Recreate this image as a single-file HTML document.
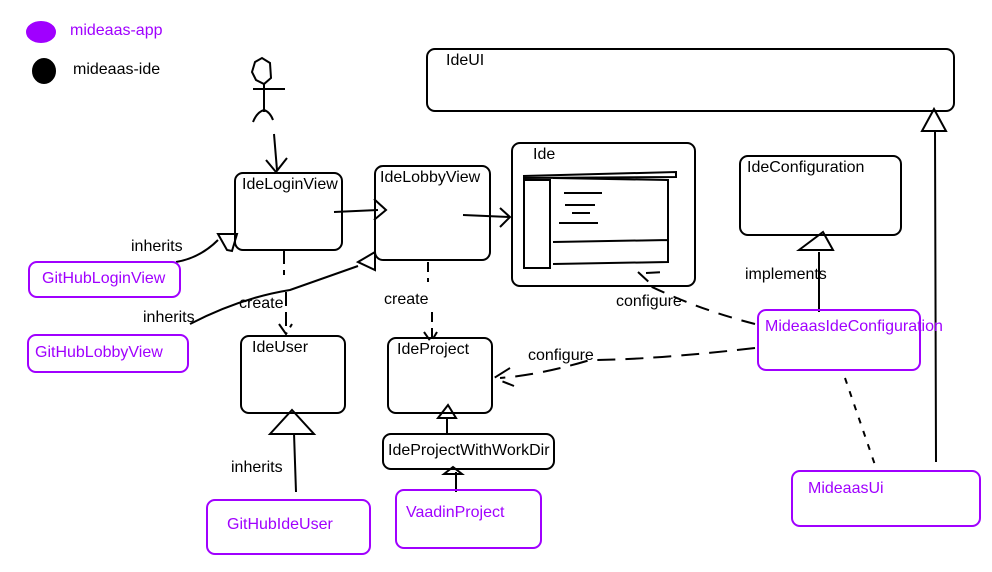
<!DOCTYPE html>
<html><head><meta charset="utf-8"><style>
body{margin:0;width:992px;height:572px;background:#fff;position:relative;overflow:hidden;font-family:"Liberation Sans",sans-serif;font-size:16px}
.b{position:absolute;border:2px solid #000;border-radius:9px;box-sizing:border-box;padding:2px 0 0 6px;color:#000;background:transparent}
.p{border-color:#a000ff;color:#a000ff}
.t{position:absolute;font-size:16px;white-space:nowrap}
svg{position:absolute;left:0;top:0}
</style></head><body>
<svg width="992" height="572" fill="none" stroke="#000" stroke-width="2">
<ellipse cx="41" cy="32" rx="14" ry="10" fill="#a000ff" stroke="#a000ff"/>
<ellipse cx="44" cy="71" rx="11" ry="12" fill="#000"/>
<path d="M255 62 L262 58 L270 63 L271 78 L264 84 L256 80 L252 72 Z"/>
<path d="M264 84 L264 112 M253 89 L285 89 M253 122 Q257 112 264 110 Q270 112 273 120"/>
<path d="M274 134 L277 170 M266 160 L276 172 L287 158"/>
<path d="M334 212 L378 210 M374 199 L386 210 L374 220"/>
<path d="M463 215 L510 217 M500 208 L510 217 L500 227"/>
<path d="M523 176 L676 172 L676 177 L523 178 M524 180 L524 268 L550 268 L550 180 Z M553 178 L668 180 L668 262 L553 264 M553 242 L668 240 M564 193 L602 193 M565 205 L595 205 M572 213 L590 213 M559 223 L598 223"/>
<path d="M176 262 Q200 258 218 240 M218 234 L237 234 L232 251 L227 250 Z"/>
<path d="M190 324 Q240 298 290 290 Q330 276 358 266 M358 262 L375 252 L375 270 Z"/>
<path d="M284 250 L284 275 M286 292 L286 330 M279 324 L286 334 L292 324" stroke-dasharray="14 6"/>
<path d="M428 262 L428 282 M432 312 L432 340 M424 332 L431 342 L437 332" stroke-dasharray="10 6"/>
<path d="M296 492 L294 433 M270 434 L292 410 L314 434 Z"/>
<path d="M447 434 L447 418 M438 418 L448 405 L456 418 Z"/>
<path d="M456 492 L456 472 M444 474 L453 467 L462 474 Z"/>
<path d="M819 312 L819 252 M799 250 L823 232 L833 250 Z"/>
<path d="M936 462 L935 131 M922 131 L934 109 L946 131 Z"/>
<path d="M755 348 Q650 360 590 360 Q540 375 500 378 M510 368 L494 378 L514 386" stroke-dasharray="18 10"/>
<path d="M755 324 Q700 310 650 286 M638 272 L652 285 M646 273 L664 272" stroke-dasharray="14 10"/>
<path d="M845 378 L875 465" stroke-dasharray="6 8"/>
</svg>
<div class="t" style="left:70px;top:22px;color:#a000ff">mideaas-app</div>
<div class="t" style="left:73px;top:61px">mideaas-ide</div>
<div class="b" style="left:426px;top:48px;width:529px;height:64px;padding-left:18px">IdeUI</div>
<div class="b" style="left:234px;top:172px;width:109px;height:79px">IdeLoginView</div>
<div class="b" style="left:374px;top:165px;width:117px;height:96px;padding-left:4px">IdeLobbyView</div>
<div class="b" style="left:511px;top:142px;width:185px;height:145px;padding-left:20px">Ide</div>
<div class="b" style="left:739px;top:155px;width:163px;height:81px">IdeConfiguration</div>
<div class="b p" style="left:28px;top:261px;width:153px;height:37px;padding-top:7px;padding-left:12px">GitHubLoginView</div>
<div class="b p" style="left:27px;top:334px;width:162px;height:39px;padding-top:8px">GitHubLobbyView</div>
<div class="b" style="left:240px;top:335px;width:106px;height:79px;padding-left:10px">IdeUser</div>
<div class="b" style="left:387px;top:337px;width:106px;height:77px;padding-left:8px">IdeProject</div>
<div class="b" style="left:382px;top:433px;width:173px;height:37px;padding-top:7px;padding-left:4px">IdeProjectWithWorkDir</div>
<div class="b p" style="left:206px;top:499px;width:165px;height:56px;padding-top:15px;padding-left:19px">GitHubIdeUser</div>
<div class="b p" style="left:395px;top:489px;width:147px;height:60px;padding-top:13px;padding-left:9px">VaadinProject</div>
<div class="b p" style="left:757px;top:309px;width:164px;height:62px;padding-top:7px;overflow:visible">MideaasIdeConfiguration</div>
<div class="b p" style="left:791px;top:470px;width:190px;height:57px;padding-top:8px;padding-left:15px">MideaasUi</div>
<div class="t" style="left:131px;top:238px">inherits</div>
<div class="t" style="left:143px;top:309px">inherits</div>
<div class="t" style="left:239px;top:295px">create</div>
<div class="t" style="left:384px;top:291px">create</div>
<div class="t" style="left:231px;top:459px">inherits</div>
<div class="t" style="left:616px;top:293px">configure</div>
<div class="t" style="left:528px;top:347px">configure</div>
<div class="t" style="left:745px;top:266px">implements</div>
</body></html>
